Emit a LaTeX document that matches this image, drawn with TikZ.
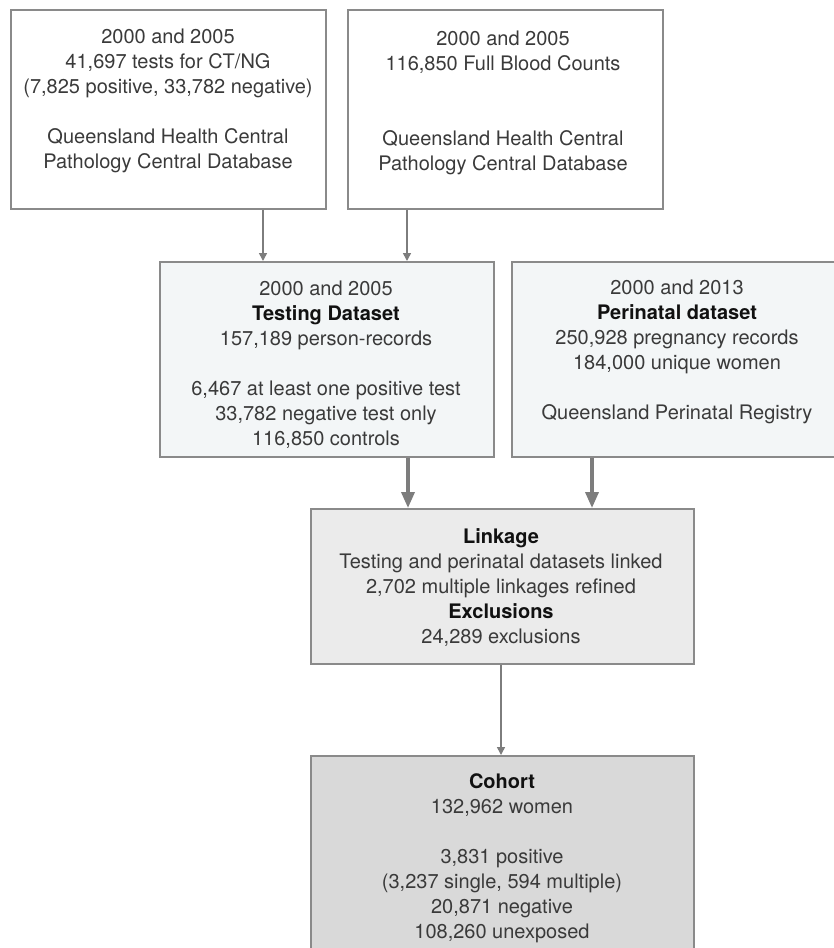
\documentclass[tikz,border=0pt]{standalone}
\usepackage{fontspec}
\setmainfont{TeX Gyre Heros}
\usetikzlibrary{arrows.meta}
\definecolor{bordergray}{HTML}{8A8A8A}
\definecolor{arrowgray}{HTML}{7D7D7D}
\definecolor{dsfill}{HTML}{F3F6F7}
\definecolor{linkfill}{HTML}{EBEBEB}
\definecolor{cohortfill}{HTML}{D9D9D9}
\definecolor{txt}{HTML}{3A3A3A}
\definecolor{hdtxt}{HTML}{111111}
\newcommand\hdline[1]{{\bfseries\color{hdtxt}#1}}
\begin{document}
\begin{tikzpicture}[x=1pt,y=-1pt,
  box/.style={draw=bordergray, line width=1.5pt, inner sep=0pt, anchor=north west},
  label/.style={anchor=base, align=center, inner sep=0pt, font=\fontsize{20}{25}\selectfont, text=txt},
  thinarrow/.style={draw=arrowgray, line width=1.5pt, -{Triangle[width=8pt,length=8pt]}},
  thickarrow/.style={draw=arrowgray, line width=3.5pt, -{Triangle[width=13pt,length=16pt]}}]
\useasboundingbox (0,0) rectangle (833,948);

\node[box, minimum width=315pt, minimum height=199pt] (src1) at (10,9) {};
\node[box, minimum width=315pt, minimum height=199pt] (src2) at (347,9) {};
\node[box, fill=dsfill, minimum width=334pt, minimum height=195pt] (testing) at (159,261) {};
\node[box, fill=dsfill, minimum width=340pt, minimum height=195pt] (perinatal) at (511,261) {};
\node[box, fill=linkfill, minimum width=383pt, minimum height=155pt] (linkage) at (310,508) {};
\node[box, fill=cohortfill, minimum width=383pt, minimum height=215pt] (cohort) at (310,755) {};

% anchor=base = baseline of the last line
\node[label] (t1) at (168,168) {2000 and 2005\\41,697 tests for CT/NG\\(7,825 positive, 33,782 negative)\\[25pt]Queensland Health Central\\Pathology Central Database};
\node[label] (t2) at (503,170) {2000 and 2005\\116,850 Full Blood Counts\\[50pt]Queensland Health Central\\Pathology Central Database};
\node[label] (t3) at (326,445) {2000 and 2005\\\hdline{Testing Dataset}\\157,189 person-records\\[25pt]6,467 at least one positive test\\33,782 negative test only\\116,850 controls};
\node[label] (t4) at (677,419) {2000 and 2013\\\hdline{Perinatal dataset}\\250,928 pregnancy records\\184,000 unique women\\[25pt]Queensland Perinatal Registry};
\node[label] (t5) at (501,643) {\hdline{Linkage}\\Testing and perinatal datasets linked\\2,702 multiple linkages refined\\\hdline{Exclusions}\\24,289 exclusions};
\node[label] (t6) at (502,938) {\hdline{Cohort}\\132,962 women\\[25pt]3,831 positive\\(3,237 single, 594 multiple)\\20,871 negative\\108,260 unexposed};

\coordinate (xa) at (263,0);
\coordinate (xb) at (407,0);
\coordinate (xc) at (408,0);
\coordinate (xd) at (592,0);
\coordinate (xe) at (501,0);
\draw[thinarrow] (src1.south -| xa) -- (testing.north -| xa);
\draw[thinarrow] (src2.south -| xb) -- (testing.north -| xb);
\draw[thickarrow] (testing.south -| xc) -- (linkage.north -| xc);
\draw[thickarrow] (perinatal.south -| xd) -- (linkage.north -| xd);
\draw[thinarrow] (linkage.south -| xe) -- (cohort.north -| xe);
\end{tikzpicture}
\end{document}
